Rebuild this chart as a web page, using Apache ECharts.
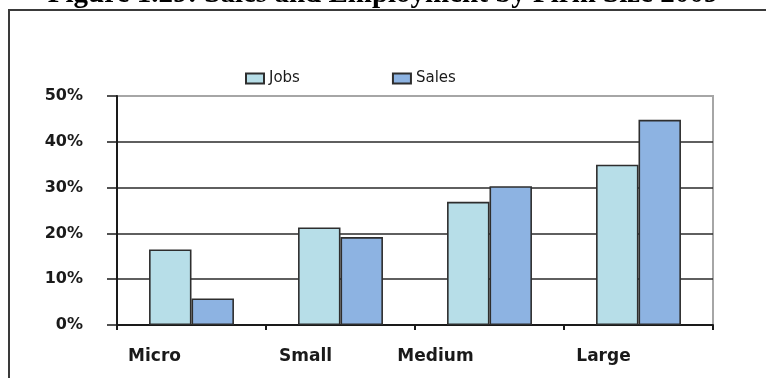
<!DOCTYPE html>
<html>
<head>
<meta charset="utf-8">
<script src="https://cdn.jsdelivr.net/npm/echarts@6/dist/echarts.min.js"></script>
<style>
  html, body { margin: 0; padding: 0; background: #ffffff; }
  #chart { width: 766px; height: 378px; }
</style>
</head>
<body>
<div id="chart"></div>
<script>
// Firm size classes and their shares (percent)
const categories = ['Micro', 'Small', 'Medium', 'Large'];
const jobsShare = [16.5, 21.3, 26.9, 35.0];
const salesShare = [5.8, 19.2, 30.3, 44.8];
const yTicks = { min: 0, max: 50, step: 10 };

// horizontal nudge (px) applied to each category caption
const captionShift = [74, 70, 108, 70];

const labelFont = { fontFamily: 'DejaVu Sans', fontWeight: 'bold', fontSize: 17, color: '#1a1a1a' };
const rich = {};
captionShift.forEach((p, i) => {
  rich['c' + i] = Object.assign({ padding: [0, p, 0, 0] }, labelFont);
});

const chart = echarts.init(document.getElementById('chart'), null, { renderer: 'canvas' });

chart.setOption({
  animation: false,
  backgroundColor: '#ffffff',
  title: {
    text: 'Figure 1.29: Sales and Employment by Firm Size 2009',
    left: 'center',
    top: -25,
    textStyle: { fontFamily: 'Liberation Serif', fontWeight: 'bold', fontSize: 29, color: '#000000' }
  },
  graphic: [{
    type: 'rect',
    shape: { x: 9, y: 10, width: 820, height: 420 },
    style: { fill: 'none', stroke: '#3a3a3a', lineWidth: 2 },
    silent: true
  }],
  legend: {
    left: 245,
    top: 71,
    padding: 0,
    itemWidth: 18,
    itemHeight: 10,
    itemGap: 92,
    icon: 'rect',
    textStyle: { fontFamily: 'DejaVu Sans', fontSize: 15, color: '#1a1a1a' },
    data: ['Jobs', 'Sales']
  },
  grid: {
    left: 117, right: 53, top: 96, bottom: 53,
    show: true, borderColor: '#a6a6a6', borderWidth: 2, backgroundColor: 'transparent'
  },
  xAxis: {
    type: 'category',
    data: categories,
    boundaryGap: true,
    axisLine: { lineStyle: { color: '#1a1a1a', width: 2 } },
    axisTick: { show: true, length: 5, lineStyle: { color: '#1a1a1a', width: 2 } },
    axisLabel: {
      margin: 23,
      formatter: (v, i) => '{c' + i + '|' + v + '}',
      rich: rich
    }
  },
  yAxis: {
    type: 'value',
    min: yTicks.min,
    max: yTicks.max,
    interval: yTicks.step,
    axisLine: { show: true, lineStyle: { color: '#1a1a1a', width: 2 } },
    axisTick: { show: true, length: 10, lineStyle: { color: '#1a1a1a', width: 1.5 } },
    axisLabel: {
      margin: 34,
      formatter: '{value}%',
      fontFamily: 'DejaVu Sans', fontWeight: 'bold', fontSize: 16, color: '#1a1a1a'
    },
    splitLine: {
      show: true,
      lineStyle: { color: ['#2a2a2a', '#2a2a2a', '#2a2a2a', '#2a2a2a', '#2a2a2a', '#a6a6a6'], width: 1.5 }
    }
  },
  series: [
    {
      name: 'Jobs',
      type: 'bar',
      data: jobsShare,
      barGap: '0%',
      barCategoryGap: '43%',
      itemStyle: { color: '#b7dee8', borderColor: '#2e2e2e', borderWidth: 1.6 }
    },
    {
      name: 'Sales',
      type: 'bar',
      data: salesShare,
      itemStyle: { color: '#8db3e2', borderColor: '#2e2e2e', borderWidth: 1.6 }
    }
  ]
});
</script>
</body>
</html>
